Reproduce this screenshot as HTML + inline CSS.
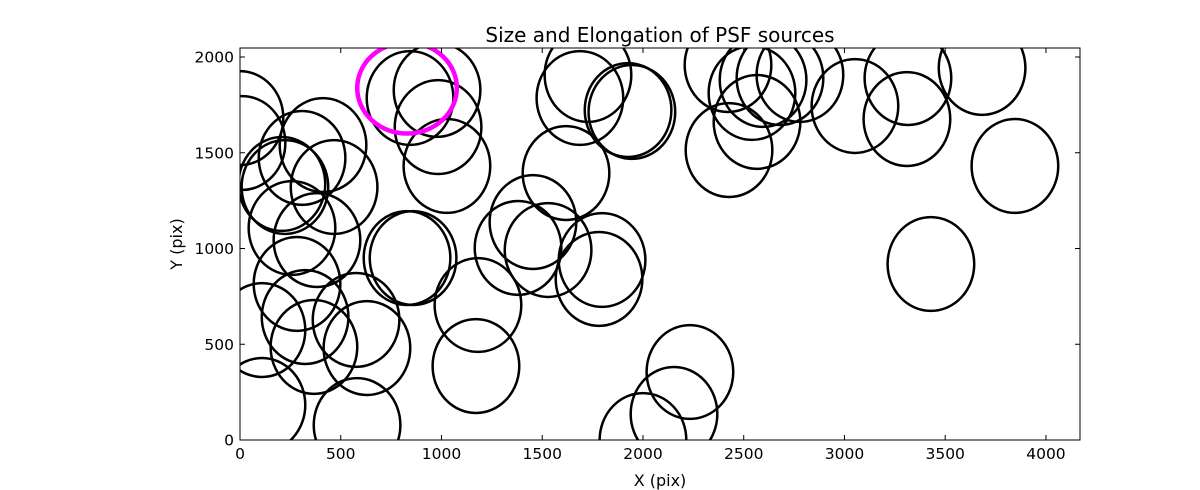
<!DOCTYPE html>
<html><head><meta charset="utf-8"><style>
html,body{margin:0;padding:0;background:#fff;}
svg{display:block;font-family:"DejaVu Sans","Liberation Sans",sans-serif;}
</style></head><body>
<svg id="chart" width="1200" height="490" viewBox="0 0 1200 490" xmlns="http://www.w3.org/2000/svg">
<defs><clipPath id="plotclip"><rect x="240" y="48" width="840" height="392"/></clipPath></defs>
<rect x="0" y="0" width="1200" height="490" fill="#fff"/>
<text x="660" y="42" text-anchor="middle" font-size="20">Size and Elongation of PSF sources</text>
<g id="marks" clip-path="url(#plotclip)"></g>
<rect x="240" y="48" width="840" height="392" fill="none" stroke="#000" stroke-width="1"/>
<g id="axes"></g>
<text x="660" y="486" text-anchor="middle" font-size="16">X (pix)</text>
<text transform="translate(182,244) rotate(-90)" text-anchor="middle" font-size="16">Y (pix)</text>
</svg>
<script>
const xs = [0,10,308,412,208,223,467,258,382,283,109,323,367,576,630,109,581,829,859,1181,1171,844,978,983,1027,1380,1454,1529,1618,1797,1782,1687,1727,1926,1945,2000,2154,2233,2422,2541,2596,2680,2779,2566,2427,3052,3315,3310,3683,3846,3429];
const ys = [1681,1551,1473,1540,1337,1321,1321,1107,1044,815,574,642,486,627,480,183,78,950,950,705,386,1786,1828,1634,1431,1003,1138,992,1394,940,841,1786,1906,1723,1713,0,136,355,1958,1812,1880,1890,1906,1661,1514,1744,1890,1676,1943,1431,919];
const highlightX = [829];
const highlightY = [1838];
const ellW = 430, ellH = 490;
const xTicks = [0,500,1000,1500,2000,2500,3000,3500,4000];
const yTicks = [0,500,1000,1500,2000];
const X0=240, X1=1080, Y0=440, Y1=48, XMAX=4169, YMAX=2047;
function sx(v){return X0+(X1-X0)*v/XMAX;}
function sy(v){return Y0-(Y0-Y1)*v/YMAX;}
const NS="http://www.w3.org/2000/svg";
const marks=document.getElementById('marks');
const rx=(sx(ellW)-sx(0))/2, ry=(sy(0)-sy(ellH))/2;
for(let i=0;i<xs.length;i++){
  const e=document.createElementNS(NS,'ellipse');
  e.setAttribute('cx',sx(xs[i]));e.setAttribute('cy',sy(ys[i]));
  e.setAttribute('rx',rx);e.setAttribute('ry',ry);
  e.setAttribute('fill','none');e.setAttribute('stroke','#000');e.setAttribute('stroke-width','2.5');
  
  
  marks.appendChild(e);
}
for(let i=0;i<highlightX.length;i++){
  const e=document.createElementNS(NS,'ellipse');
  e.setAttribute('cx',sx(highlightX[i]));e.setAttribute('cy',sy(highlightY[i]));
  e.setAttribute('rx',rx*1.15);e.setAttribute('ry',ry*0.97);
  e.setAttribute('fill','none');e.setAttribute('stroke','#ff00ff');e.setAttribute('stroke-width','4.5');
  
  
  marks.appendChild(e);
}
const axes=document.getElementById('axes');
xTicks.forEach(t=>{
  const x=sx(t);
  [[Y0,Y0-5],[Y1,Y1+5]].forEach(p=>{
    const l=document.createElementNS(NS,'line');
    l.setAttribute('x1',x);l.setAttribute('x2',x);l.setAttribute('y1',p[0]);l.setAttribute('y2',p[1]);
    l.setAttribute('stroke','#000');
    
    
    axes.appendChild(l);
  });
  const tx=document.createElementNS(NS,'text');
  tx.setAttribute('x',x);tx.setAttribute('y',459);tx.setAttribute('text-anchor','middle');tx.setAttribute('font-size','15.5');
  tx.textContent=t;
  
  
  axes.appendChild(tx);
});
yTicks.forEach(t=>{
  const y=sy(t);
  [[X0,X0+5],[X1,X1-5]].forEach(p=>{
    const l=document.createElementNS(NS,'line');
    l.setAttribute('y1',y);l.setAttribute('y2',y);l.setAttribute('x1',p[0]);l.setAttribute('x2',p[1]);
    l.setAttribute('stroke','#000');
    
    
    axes.appendChild(l);
  });
  const tx=document.createElementNS(NS,'text');
  tx.setAttribute('x',234);tx.setAttribute('y',y+5.5);tx.setAttribute('text-anchor','end');tx.setAttribute('font-size','15.5');
  tx.textContent=t;
  
  
  axes.appendChild(tx);
});
</script>
</body></html>
